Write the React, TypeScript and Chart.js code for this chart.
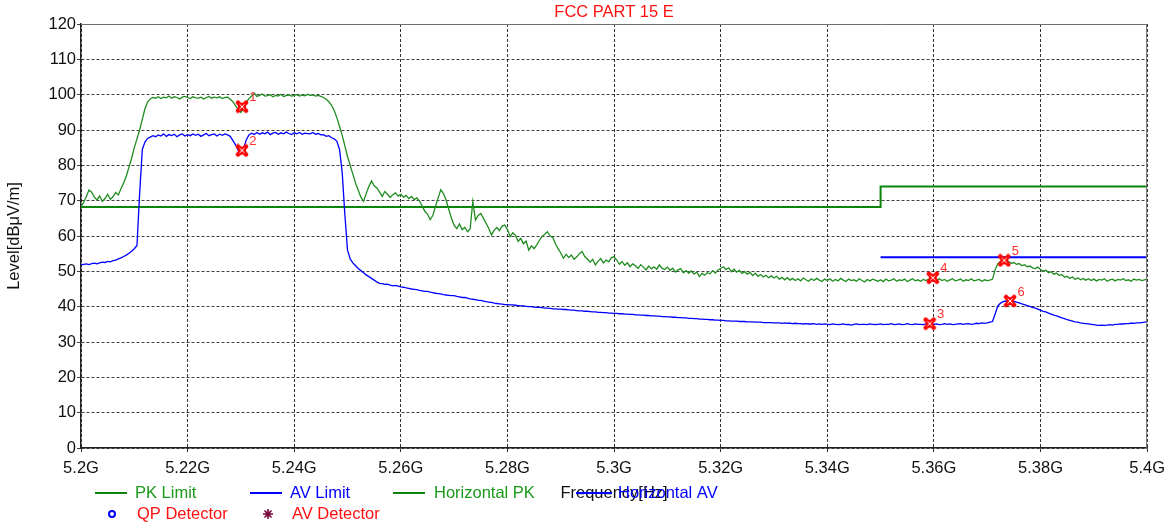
import React, { useEffect, useRef } from "react";
import { Chart, registerables } from "chart.js";

Chart.register(...registerables);

// ---------- data ----------
const FREQ_START_MHZ = 5200;
const FREQ_STEP_MHZ = 0.5;

// Horizontal PK trace (dBµV/m), sampled every 0.5 MHz from 5200 to 5400 MHz
const horizontalPK = [
  68.3, 69.5, 71.2, 73.0, 72.4, 71.0, 70.2, 71.3, 69.8, 70.6, 71.8, 70.4, 71.1, 72.3, 71.6, 73.4, 75.0, 77.0, 79.5, 82.0,
  85.0, 87.5, 90.0, 93.0, 96.0, 98.0, 98.8, 99.2, 99.0, 99.4, 98.9, 99.3, 99.1, 99.6, 99.0, 99.4, 99.2, 98.8, 99.3, 99.5,
  99.2, 98.9, 99.4, 99.1, 99.0, 99.3, 98.8, 99.2, 99.5, 99.0, 99.3, 99.1, 99.4, 98.9, 99.2, 99.3, 98.7, 98.0, 96.8, 95.8,
  95.0, 96.2, 97.8, 98.9, 99.6, 100.4, 99.5, 99.8, 100.2, 99.6, 99.7, 100.0, 99.4, 99.8, 99.6, 100.1, 99.5, 99.7, 99.9, 99.6,
  99.8, 100.0, 99.6, 99.9, 99.7, 100.1, 99.8, 99.9, 99.6, 99.8, 99.5, 99.2, 98.7, 98.0, 97.0, 95.5, 93.5, 91.0, 88.5, 85.5,
  82.5, 80.0, 77.5, 75.0, 73.0, 71.0, 69.8, 72.0, 74.0, 75.6, 74.2, 73.6, 72.5, 71.2, 72.6, 71.8, 70.9, 71.7, 72.2, 71.3,
  71.8, 71.0, 71.5, 70.6, 71.2, 70.3, 70.8, 69.9, 68.5, 67.0, 66.2, 64.6, 65.8, 68.4, 70.8, 73.1, 72.0, 70.2, 67.5, 65.0,
  63.0, 62.1, 63.4, 61.8, 62.5, 61.2, 62.0, 69.7, 64.5, 65.8, 66.4, 65.0, 63.6, 62.1, 60.3, 61.6, 62.4, 61.5, 62.8, 63.1,
  61.8, 59.8, 60.9, 60.2, 58.5, 59.3, 57.8, 58.6, 56.0, 57.2, 56.4, 57.5, 58.8, 59.9, 60.5, 61.2, 60.0, 59.6, 57.8, 56.4,
  55.2, 53.7, 54.8, 53.9, 54.6, 53.4, 54.1, 55.0, 55.6, 54.2, 53.5, 52.6, 53.4, 51.8, 52.9, 53.6, 52.4, 53.2, 52.7, 53.9,
  54.1, 53.2, 52.0, 52.8, 51.7, 52.4, 51.3, 52.1, 51.6, 50.8, 51.9, 51.2, 50.4, 51.5, 50.7, 51.3, 50.6, 51.8, 50.9, 50.5,
  51.2, 50.3, 50.9, 49.8, 50.4, 50.8, 49.6, 50.2, 49.5, 50.1, 49.2, 49.8, 48.5, 49.4, 48.9, 49.6, 49.3, 50.2, 49.5, 50.4,
  50.8, 51.3, 50.5, 51.0, 49.9, 50.6, 49.8, 50.3, 49.4, 49.9, 49.2, 49.7, 48.8, 49.5, 48.6, 49.1, 48.4, 48.9, 48.2, 48.7,
  48.1, 48.6, 47.8, 48.3, 47.6, 48.2, 47.5, 48.0, 47.4, 47.9, 47.3, 48.1, 47.6, 47.2, 47.9, 47.4, 48.0, 47.5, 47.1, 47.8,
  47.4, 47.9, 47.2, 47.7, 47.3, 48.0, 47.5, 47.1, 47.8, 47.4, 47.6, 47.2, 47.9, 47.4, 47.0, 47.7, 47.3, 47.8, 47.5, 47.2,
  47.6, 47.1, 47.8, 47.3, 47.5, 47.9, 47.2, 47.6, 47.4, 47.8, 47.1, 47.5, 47.9, 47.3, 47.6, 47.2, 47.7, 47.4, 47.8, 48.0,
  47.6, 47.3, 47.9, 47.4, 47.7, 47.2, 47.6, 47.9, 47.3, 47.5, 47.8, 47.2, 47.6, 47.4, 47.9, 47.3, 47.5, 47.7, 47.2, 47.6,
  47.4, 47.5, 47.8, 50.5, 52.2, 52.8, 53.0, 52.6, 52.8, 52.3, 52.5, 52.0, 52.2, 51.6, 51.9, 51.3, 51.5, 51.0, 50.8, 51.2,
  50.5, 50.1, 50.3, 49.6, 49.9, 49.2, 49.5, 48.8, 49.1, 48.3, 48.6, 48.0, 48.4, 47.7, 48.2, 47.6, 48.0, 47.5, 47.9, 47.4,
  47.8, 47.3, 47.7, 47.5, 47.9, 47.2, 47.6, 47.8, 47.3, 47.7, 47.5, 47.9, 47.4, 47.6, 47.2, 47.8, 47.5, 47.7, 47.4, 47.6, 47.8,
];

// Horizontal AV trace (dBµV/m), same sampling
const horizontalAV = [
  51.8, 52.0, 52.1, 51.9, 52.2, 52.3, 52.1, 52.4, 52.6, 52.5, 52.8, 52.7, 53.0, 53.2, 53.5, 53.8, 54.2, 54.6, 55.1, 55.7,
  56.4, 57.3, 72.0, 84.5, 86.6, 87.6, 88.0, 88.4, 88.1, 88.6, 88.3, 88.9, 88.2, 88.7, 88.4, 88.8, 88.1, 88.6, 88.9, 88.3,
  88.7, 88.4, 88.9, 88.5, 88.8, 88.2, 88.6, 89.0, 88.4, 88.7, 88.9, 88.3, 88.8, 88.5, 88.9, 88.6, 88.2, 87.0, 85.8, 84.2,
  83.2, 84.8, 87.2, 88.6, 89.1, 88.7, 89.3, 88.8, 89.2, 88.9, 89.4, 88.7, 89.1, 89.3, 88.8, 89.2, 88.9, 89.4, 89.0, 88.7,
  89.2, 88.9, 89.3, 88.8, 89.1, 89.0, 88.9, 89.3, 88.8, 89.0, 88.6, 88.7, 88.2, 88.4, 87.8, 87.5, 86.8, 84.5, 78.0, 66.0,
  56.0, 53.5, 52.4, 51.6, 50.8, 50.2, 49.6, 49.0, 48.5, 48.0, 47.5, 47.0, 46.6, 46.5, 46.3, 46.4, 46.1, 45.9, 46.0, 45.8,
  45.6, 45.5, 45.3, 45.2, 45.0, 44.9, 44.8, 44.6, 44.5, 44.3, 44.3, 44.1, 44.0, 43.8, 43.7, 43.6, 43.4, 43.3, 43.2, 43.1,
  43.1, 42.9, 42.8, 42.6, 42.6, 42.4, 42.2, 42.1, 42.0, 41.8, 41.8, 41.6, 41.4, 41.3, 41.2, 41.0, 40.9, 40.8, 40.7, 40.6,
  40.6, 40.5, 40.5, 40.4, 40.3, 40.2, 40.2, 40.1, 40.0, 40.0, 39.9, 39.8, 39.8, 39.7, 39.6, 39.6, 39.5, 39.4, 39.4, 39.3,
  39.3, 39.2, 39.2, 39.1, 39.0, 39.0, 38.9, 38.8, 38.8, 38.7, 38.7, 38.6, 38.5, 38.5, 38.4, 38.4, 38.3, 38.3, 38.2, 38.2,
  38.1, 38.1, 38.0, 38.0, 37.9, 37.9, 37.8, 37.8, 37.7, 37.7, 37.6, 37.6, 37.5, 37.5, 37.4, 37.4, 37.3, 37.3, 37.2, 37.2,
  37.1, 37.1, 37.0, 37.0, 36.9, 36.9, 36.8, 36.8, 36.7, 36.7, 36.6, 36.6, 36.5, 36.5, 36.4, 36.4, 36.3, 36.3, 36.2, 36.2,
  36.1, 36.1, 36.0, 36.0, 35.9, 35.9, 35.9, 35.8, 35.8, 35.8, 35.7, 35.7, 35.7, 35.6, 35.6, 35.6, 35.5, 35.5, 35.5, 35.5,
  35.4, 35.4, 35.4, 35.3, 35.4, 35.3, 35.3, 35.2, 35.3, 35.2, 35.2, 35.1, 35.2, 35.1, 35.1, 35.2, 35.0, 35.1, 35.0, 35.1,
  35.0, 34.9, 35.1, 35.0, 34.9, 35.0, 35.1, 34.9, 35.0, 34.8, 35.0, 35.1, 34.9, 35.0, 35.0, 34.9, 35.1, 35.0, 34.9, 35.0,
  35.1, 34.9, 35.0, 35.0, 35.2, 34.9, 35.0, 35.1, 34.9, 35.0, 35.2, 35.0, 34.9, 35.1, 35.0, 35.0, 34.9, 35.1, 35.2, 35.0,
  35.0, 35.1, 34.9, 35.0, 35.2, 35.0, 35.1, 34.9, 35.0, 35.1, 35.2, 35.0, 35.1, 35.2, 35.0, 35.1, 35.3, 35.2, 35.4, 35.3,
  35.4, 35.6, 35.8, 38.0, 40.2, 41.0, 41.4, 41.6, 41.7, 41.6, 41.5, 41.3, 41.1, 40.8, 40.6, 40.3, 40.1, 39.8, 39.6, 39.3,
  39.0, 38.7, 38.5, 38.2, 37.9, 37.6, 37.4, 37.1, 36.8, 36.6, 36.3, 36.1, 35.9, 35.7, 35.6, 35.4, 35.3, 35.2, 35.1, 35.0,
  34.9, 34.8, 34.7, 34.8, 34.7, 34.8, 34.9, 34.8, 35.0, 35.0, 35.1, 35.1, 35.2, 35.2, 35.3, 35.3, 35.4, 35.4, 35.5, 35.6, 35.7,
];

const frequenciesMHz = horizontalPK.map((_, i) => FREQ_START_MHZ + i * FREQ_STEP_MHZ);

const pkLimitFreq = [5200, 5350, 5350, 5400];
const pkLimitLevel = [68.2, 68.2, 74, 74];
const avLimitFreq = [5350, 5400];
const avLimitLevel = [54, 54];

const markerFreq = [5230.2, 5230.2, 5359.2, 5359.8, 5373.2, 5374.3];
const markerLevel = [96.6, 84.2, 35.2, 48.2, 53.1, 41.6];
const markerLabels = ["1", "2", "3", "4", "5", "6"];

const X_MIN = 5200;
const X_MAX = 5400;
const X_STEP = 20;
const Y_MIN = 0;
const Y_MAX = 120;
const Y_STEP = 10;

const TITLE = "FCC PART 15 E";
const X_TITLE = "Frequency[Hz]";
const Y_TITLE = "Level[dBμV/m]";

// ---------- style ----------
const FONT = '"Liberation Sans", Arial, sans-serif';
const FONT_SIZE = 16.5;
const GREEN_LIMIT = "#0b840b";
const GREEN_TRACE = "#1f8c1f";
const BLUE = "#0000ff";
const RED = "#ff1010";

function makeMarkerImage(): HTMLCanvasElement {
  const c = document.createElement("canvas");
  c.width = 14;
  c.height = 14;
  const g = c.getContext("2d")!;
  g.strokeStyle = "#ff0000";
  g.fillStyle = "#ff0000";
  g.lineCap = "round";
  g.lineWidth = 4.5;
  g.beginPath();
  g.moveTo(3, 3);
  g.lineTo(11, 11);
  g.moveTo(11, 3);
  g.lineTo(3, 11);
  g.stroke();
  g.beginPath();
  g.arc(7, 7, 4, 0, Math.PI * 2);
  g.fill();
  g.strokeStyle = "#ffffff";
  g.lineWidth = 1;
  g.lineCap = "butt";
  g.beginPath();
  g.moveTo(4.5, 4.5);
  g.lineTo(9.5, 9.5);
  g.moveTo(9.5, 4.5);
  g.lineTo(4.5, 9.5);
  g.stroke();
  return c;
}

const legendLines = [
  { x1: 95, x2: 127, color: GREEN_LIMIT },
  { x1: 250, x2: 282, color: BLUE },
  { x1: 393, x2: 425, color: GREEN_LIMIT },
  { x1: 576, x2: 612, color: BLUE },
];
const legendTexts = [
  { x: 135, text: "PK Limit", color: "#1a9a1a" },
  { x: 290, text: "AV Limit", color: BLUE },
  { x: 434, text: "Horizontal PK", color: "#1a9a1a" },
  { x: 618, text: "Horizontal AV", color: BLUE },
];

const overlayPlugin = {
  id: "overlay",
  afterDraw(chart: any) {
    const { ctx, chartArea: a } = chart;
    ctx.save();

    // frame
    ctx.strokeStyle = "#707070";
    ctx.lineWidth = 1;
    ctx.beginPath();
    ctx.moveTo(a.left, a.top + 0.5);
    ctx.lineTo(a.right - 0.5, a.top + 0.5);
    ctx.lineTo(a.right - 0.5, a.bottom);
    ctx.stroke();

    // title
    ctx.font = `${FONT_SIZE}px ${FONT}`;
    ctx.fillStyle = RED;
    ctx.textAlign = "center";
    ctx.textBaseline = "middle";
    ctx.fillText(TITLE, (a.left + a.right) / 2, 12);

    // y title
    ctx.save();
    ctx.translate(14, (a.top + a.bottom) / 2);
    ctx.rotate(-Math.PI / 2);
    ctx.fillStyle = "#111";
    ctx.fillText(Y_TITLE, 0, 0);
    ctx.restore();

    // marker labels
    const meta = chart.getDatasetMeta(0);
    ctx.font = `13px ${FONT}`;
    ctx.fillStyle = "#ff3030";
    meta.data.forEach((pt: any, i: number) => {
      ctx.fillText(markerLabels[i], pt.x + 11, pt.y - 9);
    });

    // x title
    ctx.font = `${FONT_SIZE}px ${FONT}`;
    ctx.fillStyle = "#111";
    ctx.fillText(X_TITLE, (a.left + a.right) / 2, 493);

    // legend
    ctx.textAlign = "left";
    const row1 = 493;
    const row2 = 514;
    legendLines.forEach((l) => {
      ctx.strokeStyle = l.color;
      ctx.lineWidth = 2;
      ctx.beginPath();
      ctx.moveTo(l.x1, row1);
      ctx.lineTo(l.x2, row1);
      ctx.stroke();
    });
    legendTexts.forEach((t) => {
      ctx.fillStyle = t.color;
      ctx.fillText(t.text, t.x, row1);
    });

    // QP detector
    ctx.strokeStyle = BLUE;
    ctx.lineWidth = 2;
    ctx.beginPath();
    ctx.arc(112, row2, 3, 0, Math.PI * 2);
    ctx.stroke();
    ctx.fillStyle = RED;
    ctx.fillText("QP Detector", 137, row2);

    // AV detector star
    ctx.strokeStyle = "#7a0a3a";
    ctx.lineWidth = 1.6;
    ctx.beginPath();
    for (let k = 0; k < 8; k++) {
      const ang = (k * Math.PI) / 4;
      ctx.moveTo(268, row2);
      ctx.lineTo(268 + Math.cos(ang) * 5, row2 + Math.sin(ang) * 5);
    }
    ctx.stroke();
    ctx.fillStyle = "#7a0a3a";
    ctx.beginPath();
    ctx.arc(268, row2, 2.5, 0, Math.PI * 2);
    ctx.fill();
    ctx.fillStyle = RED;
    ctx.fillText("AV Detector", 292, row2);

    ctx.restore();
  },
};

export default function App() {
  const canvasRef = useRef<HTMLCanvasElement | null>(null);

  useEffect(() => {
    if (!canvasRef.current) return;
    const markerImg = makeMarkerImage();

    const toPts = (xs: number[], ys: number[]) => xs.map((x, i) => ({ x, y: ys[i] }));

    const chart = new Chart(canvasRef.current, {
      type: "line",
      data: {
        datasets: [
          {
            label: "Markers",
            data: toPts(markerFreq, markerLevel),
            showLine: false,
            pointStyle: markerImg as any,
            pointRadius: 7,
            order: 0,
          },
          {
            label: "Horizontal AV",
            data: toPts(frequenciesMHz, horizontalAV),
            borderColor: BLUE,
            borderWidth: 1.3,
            pointRadius: 0,
            order: 1,
          },
          {
            label: "Horizontal PK",
            data: toPts(frequenciesMHz, horizontalPK),
            borderColor: GREEN_TRACE,
            borderWidth: 1.3,
            pointRadius: 0,
            order: 2,
          },
          {
            label: "AV Limit",
            data: toPts(avLimitFreq, avLimitLevel),
            borderColor: BLUE,
            borderWidth: 2,
            pointRadius: 0,
            order: 3,
          },
          {
            label: "PK Limit",
            data: toPts(pkLimitFreq, pkLimitLevel),
            borderColor: GREEN_LIMIT,
            borderWidth: 2,
            pointRadius: 0,
            order: 4,
          },
        ],
      },
      options: {
        animation: false,
        responsive: false,
        events: [],
        layout: { padding: { top: 24, right: 23, left: 0, bottom: 0 } },
        plugins: {
          legend: { display: false },
          title: { display: false },
          tooltip: { enabled: false },
        },
        elements: { line: { tension: 0 } },
        scales: {
          x: {
            type: "linear",
            min: X_MIN,
            max: X_MAX,
            ticks: {
              stepSize: X_STEP,
              color: "#111",
              font: { family: FONT, size: FONT_SIZE },
              padding: 7,
              maxRotation: 0,
              callback: (v: any) => parseFloat((Number(v) / 1000).toFixed(3)) + "G",
            },
            grid: {
              color: "rgba(0,0,0,0.8)",
              lineWidth: 1,
              tickLength: 4,
              drawTicks: true,
            },
            border: { display: true, color: "#222", width: 1.5, dash: [3, 2] },
            afterFit: (s: any) => {
              s.height = 77;
            },
          },
          y: {
            type: "linear",
            min: Y_MIN,
            max: Y_MAX,
            ticks: {
              stepSize: Y_STEP,
              color: "#111",
              font: { family: FONT, size: FONT_SIZE },
              padding: 1,
            },
            grid: {
              color: "rgba(0,0,0,0.75)",
              lineWidth: 1,
              tickLength: 4,
              drawTicks: true,
            },
            border: { display: true, color: "#222", width: 1.5, dash: [3, 2] },
            afterFit: (s: any) => {
              s.width = 81;
            },
          },
        },
      } as any,
      plugins: [overlayPlugin],
    });

    return () => chart.destroy();
  }, []);

  return (
    <div style={{ position: "fixed", left: 0, top: 0, width: 1172, height: 525, background: "#fff" }}>
      <canvas ref={canvasRef} width={1172} height={525} style={{ display: "block" }} />
    </div>
  );
}
